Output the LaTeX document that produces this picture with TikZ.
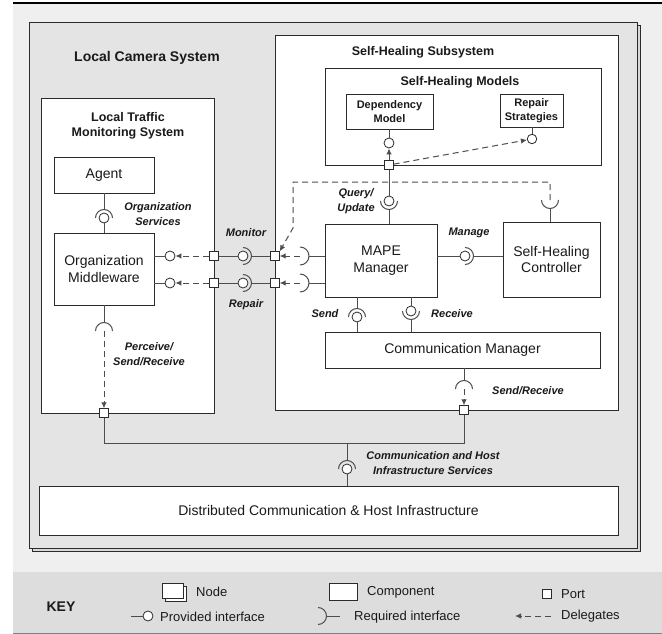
\documentclass[tikz,border=0pt]{standalone}
\usepackage{fontspec}
\setmainfont{Liberation Sans}
\usetikzlibrary{arrows.meta}
\definecolor{bgout}{HTML}{EFEFEF}
\definecolor{bglcs}{HTML}{E4E4E4}
\definecolor{bgshadow}{HTML}{D8D8D8}
\definecolor{bgkey}{HTML}{DDDDDD}
\definecolor{ln}{HTML}{2B2B2B}
\definecolor{cn}{HTML}{4D4D4D}
\definecolor{tx}{HTML}{1A1A1A}
\tikzset{
  box/.style={draw=ln, fill=white, line width=0.9pt, inner sep=0pt, align=center, text=tx},
  conn/.style={draw=cn, line width=1pt},
  dl/.style={draw=cn, line width=1pt, dash pattern=on 6pt off 4pt, -{Latex[length=6pt,width=5.5pt]}},
  portbox/.style={draw=ln, fill=white, line width=0.8pt, minimum size=8.5pt, inner sep=0pt},
  ball/.style={circle, draw=ln, fill=white, line width=0.8pt, minimum size=10pt, inner sep=0pt},
  comp/.style={font=\fontsize{14}{16.5}\selectfont},
  ttl/.style={font=\bfseries\fontsize{12.5}{15}\selectfont, align=center, text=tx},
  sm/.style={font=\bfseries\fontsize{11}{13.5}\selectfont},
  lbl/.style={font=\bfseries\itshape\fontsize{11}{15}\selectfont, align=center, text=tx},
  keyt/.style={font=\fontsize{13}{15}\selectfont, anchor=west, text=tx, inner sep=0pt},
}
\begin{document}
\begin{tikzpicture}[x=1pt, y=-1pt]
\useasboundingbox (0,0) rectangle (662,634);
\fill[white] (0,0) rectangle (662,634);
\fill[bgout] (13,3) rectangle (662,634);
\draw[black, line width=1.2pt] (13,3) -- (662,3);
\fill[bgkey] (13,572) rectangle (662,633);
\draw[gray, line width=1pt] (13,633) -- (662,633);

% Local Camera System (node)
\node[draw=ln, fill=bgshadow, line width=0.9pt, minimum width=608pt, minimum height=526pt, anchor=north west, inner sep=0pt] (lcsback) at (32,25) {};
\node[draw=ln, fill=bglcs, line width=0.9pt, minimum width=608pt, minimum height=526pt, anchor=north west, inner sep=0pt] (lcs) at (29,22) {};
\node[ttl, font=\bfseries\fontsize{14}{16}\selectfont] (lcsT) at (147,58) {Local Camera System};

% Local Traffic Monitoring System
\node[box, minimum width=173pt, minimum height=315pt, anchor=north west] (ltms) at (41,98) {};
\node[ttl] (ltmsT) at (128,125.5) {Local Traffic\\Monitoring System};
\node[box, comp, minimum width=100pt, minimum height=36pt] (agent) at (104,175) {Agent};
\node[box, comp, minimum width=100pt, minimum height=72pt] (om) at (104,269) {Organization\\Middleware};

% Self-Healing Subsystem
\node[box, minimum width=343pt, minimum height=375pt, anchor=north west] (shs) at (275,35) {};
\node[ttl] (shsT) at (423,52) {Self-Healing Subsystem};
\node[box, minimum width=276pt, minimum height=97pt, anchor=north west] (shm) at (325,68) {};
\node[ttl] (shmT) at (460,82) {Self-Healing Models};
\node[box, sm, minimum width=87pt, minimum height=35pt] (dep) at (389.5,111.5) {Dependency\\Model};
\node[box, sm, minimum width=63pt, minimum height=33pt] (rep) at (531.5,110.5) {Repair\\Strategies};
\node[box, comp, minimum width=112pt, minimum height=73pt] (mape) at (381,260.5) {MAPE\\Manager};
\node[box, comp, minimum width=97pt, minimum height=75pt] (shc) at (551.5,259.5) {Self-Healing\\Controller};
\node[box, comp, minimum width=275pt, minimum height=36pt] (cm) at (462.5,350) {Communication Manager};

% Distributed infrastructure
\node[box, comp, minimum width=579pt, minimum height=49pt] (dchi) at (328.5,510.5) {Distributed Communication \& Host Infrastructure};

% ports
\node[portbox] (pL1) at (214,256) {};
\node[portbox] (pL2) at (214,283) {};
\node[portbox] (pR1) at (275,256) {};
\node[portbox] (pR2) at (275,283) {};
\node[portbox] (pM) at (389,165) {};
\node[portbox] (pB1) at (104,413) {};
\node[portbox] (pB2) at (464,410) {};

% balls
\node[ball] (pv1) at (170,256) {};
\node[ball] (pv2) at (170,283) {};
\node[ball] (mb1) at (243,256) {};
\node[ball] (mb2) at (243,283) {};
\node[ball] (dball) at (389,143) {};
\node[ball, minimum size=9.5pt] (rball) at (532,139) {};
\node[ball] (qb) at (389,201) {};
\node[ball] (mg) at (465,256) {};
\node[ball] (sb) at (357,317) {};
\node[ball] (rb) at (411,311) {};
\node[ball] (ob) at (104,218) {};
\node[ball] (hb) at (347,469) {};

% socket reference points
\coordinate (rs1) at (300,256);
\coordinate (rs2) at (300,283);
\coordinate (ss) at (550,200);
\coordinate (os) at (104,331);
\coordinate (cs) at (464,389);
\coordinate (d1) at (293,182);
\coordinate (d2) at (550,182);
\coordinate (d3) at (293,228);
\coordinate (busL) at (104,443);
\coordinate (busR) at (464,443);
\coordinate (busM) at (347,443);

% Organization services (Agent requires, OM provides)
\draw[conn] (ob |- agent.south) -- ([yshift=8.5pt]ob.center);
\draw[conn] ([xshift=8.5pt]ob.center) arc[start angle=0, end angle=180, radius=8.5pt];
\draw[conn] (ob) -- (ob |- om.north);

% OM provided interfaces and delegation
\draw[conn] (om.east |- pv1) -- (pv1);
\draw[conn] (om.east |- pv2) -- (pv2);
\draw[dl] (pL1) -- (pv1);
\draw[dl] (pL2) -- (pv2);

% Monitor / Repair assembly
\draw[conn] (pL1) -- (mb1);
\draw[conn] ([yshift=8.5pt]mb1.center) arc[start angle=90, end angle=-90, radius=8.5pt];
\draw[conn] ([xshift=8.5pt]mb1.center) -- (pR1);
\draw[conn] (pL2) -- (mb2);
\draw[conn] ([yshift=8.5pt]mb2.center) arc[start angle=90, end angle=-90, radius=8.5pt];
\draw[conn] ([xshift=8.5pt]mb2.center) -- (pR2);

% MAPE required interfaces (left)
\draw[conn] ([yshift=9pt]rs1) arc[start angle=90, end angle=-90, radius=9pt];
\draw[conn] ([xshift=9pt]rs1) -- (mape.west |- rs1);
\draw[dl] (rs1) -- (pR1);
\draw[conn] ([yshift=9pt]rs2) arc[start angle=90, end angle=-90, radius=9pt];
\draw[conn] ([xshift=9pt]rs2) -- (mape.west |- rs2);
\draw[dl] (rs2) -- (pR2);

% Self-Healing Models
\draw[conn] (dball |- dep.south) -- (dball);
\draw[conn] (rball |- rep.south) -- (rball);
\draw[dl] (pM) -- (dball);
\draw[dl] (pM) -- (rball);

% Query/Update
\draw[conn] (pM) -- (qb);
\draw[conn] ([xshift=-8.5pt]qb.center) arc[start angle=180, end angle=360, radius=8.5pt];
\draw[conn] ([yshift=-8.5pt]qb.center) -- (qb |- mape.north);

% Self-Healing Controller required interface and delegation loop
\draw[conn] ([xshift=-8.5pt]ss) arc[start angle=180, end angle=360, radius=8.5pt];
\draw[conn] ([yshift=-8.5pt]ss) -- (ss |- shc.north);
\draw[dl] (ss) -- (d2) -- (d1) -- (d3) -- (pR1.north east);

% Manage
\draw[conn] (mape.east |- mg) -- (mg);
\draw[conn] ([yshift=8.5pt]mg.center) arc[start angle=90, end angle=-90, radius=8.5pt];
\draw[conn] ([xshift=8.5pt]mg.center) -- (shc.west |- mg);

% Send (MAPE requires, CM provides)
\draw[conn] (sb |- mape.south) -- ([yshift=8.5pt]sb.center);
\draw[conn] ([xshift=8.5pt]sb.center) arc[start angle=0, end angle=180, radius=8.5pt];
\draw[conn] (sb) -- (sb |- cm.north);

% Receive (MAPE provides, CM requires)
\draw[conn] (rb |- mape.south) -- (rb);
\draw[conn] ([xshift=-8.5pt]rb.center) arc[start angle=180, end angle=360, radius=8.5pt];
\draw[conn] ([yshift=-8.5pt]rb.center) -- (rb |- cm.north);

% OM perceive/send/receive
\draw[conn] (os |- om.south) -- ([yshift=8.5pt]os);
\draw[conn] ([xshift=8.5pt]os) arc[start angle=0, end angle=180, radius=8.5pt];
\draw[dl] (os) -- (pB1);

% CM send/receive
\draw[conn] (cs |- cm.south) -- ([yshift=8.5pt]cs);
\draw[conn] ([xshift=8.5pt]cs) arc[start angle=0, end angle=180, radius=8.5pt];
\draw[dl] (cs) -- (pB2);

% bus and infrastructure services
\draw[conn] (pB1) -- (busL) -- (busR) -- (pB2);
\draw[conn] (busM) -- ([yshift=8.5pt]hb.center);
\draw[conn] ([xshift=8.5pt]hb.center) arc[start angle=0, end angle=180, radius=8.5pt];
\draw[conn] (hb) -- (hb |- dchi.north);

% labels
\node[lbl] (lOS) at (158,214.5) {Organization\\Services};
\node[lbl] (lMon) at (246,233) {Monitor};
\node[lbl] (lRep) at (246,305) {Repair};
\node[lbl] (lQU) at (356,201) {Query/\\Update};
\node[lbl] (lMg) at (469,233) {Manage};
\node[lbl] (lSend) at (325,314) {Send};
\node[lbl] (lRecv) at (452,314) {Receive};
\node[lbl] (lPSR) at (149,354.5) {Perceive/\\Send/Receive};
\node[lbl] (lSR) at (528,391) {Send/Receive};
\node[lbl] (lCH) at (433,463) {Communication and Host\\Infrastructure Services};

% KEY
\node[font=\bfseries\fontsize{14}{16}\selectfont, text=tx] (keyT) at (61,607) {KEY};
\node[draw=ln, fill=white, line width=0.8pt, minimum width=21pt, minimum height=15pt, inner sep=0pt, anchor=north west] (kNodeB) at (165,586) {};
\node[draw=ln, fill=white, line width=0.8pt, minimum width=21pt, minimum height=15pt, inner sep=0pt, anchor=north west] (kNode) at (162,583) {};
\node[keyt] (kNodeT) at (196,592) {Node};
\node[draw=ln, fill=white, line width=0.8pt, minimum width=28pt, minimum height=17pt, inner sep=0pt, anchor=north west] (kComp) at (329,583) {};
\node[keyt] (kCompT) at (367,592) {Component};
\node[portbox, minimum size=9pt] (kPort) at (546.5,593.5) {};
\node[keyt] (kPortT) at (561,594) {Port};
\node[ball] (kBall) at (148,616) {};
\coordinate (kBallL) at (131,616);
\draw[conn] (kBallL) -- (kBall);
\node[keyt] (kBallT) at (160,617) {Provided interface};
\coordinate (kSock) at (318,616);
\coordinate (kSockR) at (340,616);
\draw[conn] ([yshift=8.5pt]kSock) arc[start angle=90, end angle=-90, radius=8.5pt];
\draw[conn] ([xshift=8.5pt]kSock) -- (kSockR);
\node[keyt] (kSockT) at (354,617) {Required interface};
\coordinate (kDelA) at (551,616);
\coordinate (kDelB) at (515,616);
\draw[dl] (kDelA) -- (kDelB);
\node[keyt] (kDelT) at (561,616) {Delegates};
\end{tikzpicture}
\end{document}
